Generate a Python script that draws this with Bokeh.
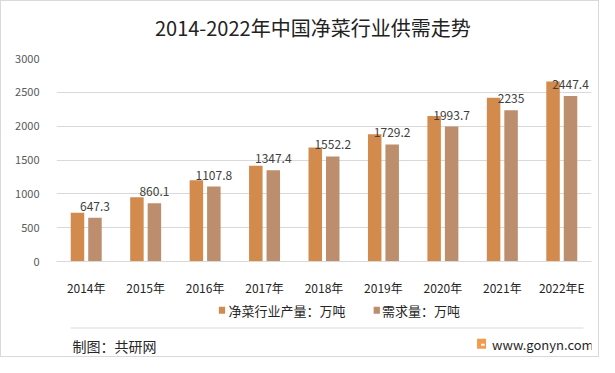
from bokeh.plotting import figure
from bokeh.layouts import column
from bokeh.models import ColumnDataSource, FixedTicker, LabelSet, FactorRange, Range1d
from bokeh.transform import dodge
from bokeh.core.properties import value
from bokeh.embed import file_html
from bokeh.resources import INLINE

years = ["2014年", "2015年", "2016年", "2017年", "2018年", "2019年", "2020年", "2021年", "2022年E"]
production = [720, 950, 1200, 1415, 1685, 1880, 2150, 2420, 2660]
demand = [647.3, 860.1, 1107.8, 1347.4, 1552.2, 1729.2, 1993.7, 2235, 2447.4]
demand_labels = ["647.3", "860.1", "1107.8", "1347.4", "1552.2", "1729.2", "1993.7", "2235", "2447.4"]
y_ticks = [0, 500, 1000, 1500, 2000, 2500, 3000]

title_text = ["2014-2022年中国净菜行业供需走势"]
legend_names = ["净菜行业产量：万吨", "需求量：万吨"]
source_text = ["制图：共研网"]
site_text = ["www.gonyn.com"]

C_PROD = "#D38B4D"
C_DEM = "#BC8E6D"
FONT = "Noto Sans CJK SC"
W = 597
GRID = "#d9d9d9"


def text_fig(height):
    f = figure(width=W, height=height, x_range=Range1d(0, W), y_range=Range1d(0, height),
               output_backend="svg", toolbar_location=None, x_axis_type=None, y_axis_type=None,
               min_border=0, min_border_left=0, min_border_right=0, min_border_top=0,
               min_border_bottom=0)
    f.grid.visible = False
    f.outline_line_color = None
    f.background_fill_color = "white"
    f.border_fill_color = "white"
    return f


# ---- title
t = text_fig(47)
t.text(x=[286], y=[21.5], text=title_text, text_align="center", text_baseline="middle",
       text_font=value(FONT), text_font_size="20px", text_color="#222222")

# ---- main chart
src = ColumnDataSource(dict(years=years, production=production, demand=demand, lab=demand_labels))

p = figure(x_range=FactorRange(*years, range_padding=0, factor_padding=0), y_range=Range1d(0, 3000),
           width=W, height=250, output_backend="svg", toolbar_location=None,
           min_border_left=55, min_border_right=7, min_border_top=10, min_border_bottom=31)
p.background_fill_color = "white"
p.border_fill_color = "white"
p.outline_line_color = None

bw = 0.227
p.vbar(x=dodge("years", -0.147, range=p.x_range), top="production", width=bw, source=src,
       color=C_PROD, line_color=None)
p.vbar(x=dodge("years", 0.147, range=p.x_range), top="demand", width=bw, source=src,
       color=C_DEM, line_color=None)

labels = LabelSet(x=dodge("years", 0.147, range=p.x_range), y="demand", text="lab", source=src,
                  text_align="center", text_baseline="bottom", y_offset=7,
                  text_font=value(FONT), text_font_size="12px", text_color="#404040")
p.add_layout(labels)

p.ygrid.ticker = FixedTicker(ticks=y_ticks)
p.ygrid.grid_line_color = GRID
p.xgrid.grid_line_color = None

p.yaxis.ticker = FixedTicker(ticks=y_ticks)
p.yaxis.axis_line_color = None
p.yaxis.major_tick_line_color = None
p.yaxis.minor_tick_line_color = None
p.yaxis.major_label_text_font = FONT
p.yaxis.major_label_text_font_size = "11px"
p.yaxis.major_label_text_color = "#595959"
p.yaxis.major_label_standoff = 11

p.xaxis.axis_line_color = GRID
p.xaxis.major_tick_line_color = None
p.xaxis.minor_tick_line_color = None
p.xaxis.major_label_text_font = FONT
p.xaxis.major_label_text_font_size = "12px"
p.xaxis.major_label_text_color = "#262626"
p.xaxis.major_label_standoff = 11

# ---- footer: legend, separator, source
fh = 58
f = text_fig(fh)
f.rect(x=[184.7, 357.4], y=[46.2, 46.2], width=7, height=7, color=[C_PROD, C_DEM], line_color=None)
f.text(x=[192, 363.3], y=[46.2, 46.2], text=legend_names, text_align="left", text_baseline="middle",
       text_font=value(FONT), text_font_size="13px", text_color="#262626")
f.segment(x0=[15.8], y0=[28.5], x1=[588], y1=[28.5], line_color=GRID, line_width=1)
f.text(x=[17.8], y=[11], text=source_text, text_align="left", text_baseline="middle",
       text_font=value(FONT), text_font_size="14px", text_color="#262626")
f.rect(x=[474.3], y=[12.8], width=10, height=10, color="#F29B4C", line_color=None)
f.rect(x=[475.8], y=[11.8], width=4, height=2, color="white", line_color=None)
f.text(x=[486], y=[12], text=site_text, text_align="left", text_baseline="middle",
       text_font=value(FONT), text_font_size="13px", text_color="#262626")

layout = column(t, p, f, spacing=0, styles={"border": "1px solid #d9d9d9"})

open("out.html", "w").write(file_html(layout, INLINE))
